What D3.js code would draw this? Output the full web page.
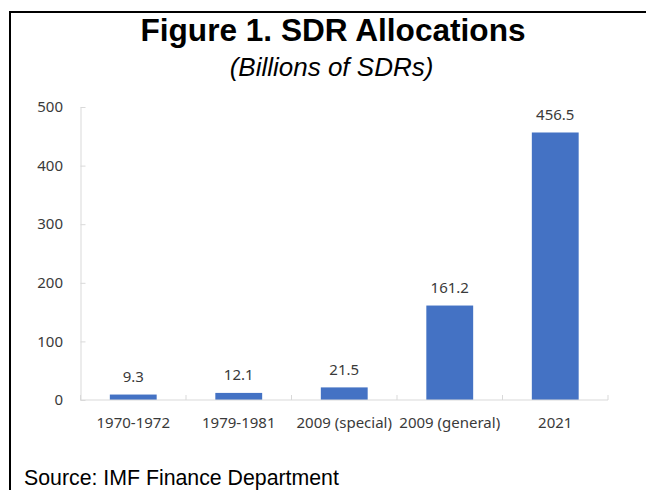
<!DOCTYPE html>
<html>
<head>
<meta charset="utf-8">
<script src="https://cdn.jsdelivr.net/npm/d3@7"></script>
<style>
	body { margin: 0; background: #fff; }
	svg { display: block; }
</style>
</head>
<body>
<svg id="chart" width="646" height="490"></svg>
<script>
// values
let categories = ["1970-1972", "1979-1981", "2009 (special)", "2009 (general)", "2021"];
let allocations = [9.3, 12.1, 21.5, 161.2, 456.5];
let yTicks = [0, 100, 200, 300, 400, 500];

let chart = {
	width: 646,
	height: 490,
	plot: { left: 80.5, right: 608, top: 107, bottom: 400 },
	color: "#4472C4",
	axisColor: "#d9d9d9",
	textColor: "#3a3a3a",
	font: "'Noto Sans', 'Open Sans', sans-serif"
};

let svg = d3.select("#chart");

// frame around the figure (only left and top edges are visible)
svg.append("rect")
	.attr("x", 10).attr("y", 12)
	.attr("width", 660).attr("height", 500)
	.attr("fill", "none")
	.attr("stroke", "#000")
	.attr("stroke-width", 2);

// titles
svg.append("text")
	.attr("x", 333).attr("y", 41)
	.attr("text-anchor", "middle")
	.attr("font-family", "'Liberation Sans', Arial, sans-serif")
	.attr("font-weight", "bold")
	.attr("font-size", 31.6)
	.text("Figure 1. SDR Allocations");

svg.append("text")
	.attr("x", 331.5).attr("y", 76)
	.attr("text-anchor", "middle")
	.attr("font-family", "'Liberation Sans', Arial, sans-serif")
	.attr("font-style", "italic")
	.attr("font-size", 26)
	.text("(Billions of SDRs)");

let x = d3.scaleBand()
	.domain(categories)
	.range([chart.plot.left, chart.plot.right])
	.paddingInner(0.556)
	.paddingOuter(0.278);

let y = d3.scaleLinear()
	.domain([0, 500])
	.range([chart.plot.bottom, chart.plot.top]);

// y axis: light line, ticks pointing inwards, labels on the left
let yAxis = svg.append("g")
	.attr("transform", "translate(" + chart.plot.left + ",0)")
	.call(d3.axisRight(y).tickValues(yTicks).tickSize(5).tickSizeOuter(0).tickFormat(""));
yAxis.select(".domain").attr("stroke", chart.axisColor);
yAxis.selectAll(".tick line").attr("stroke", chart.axisColor);

svg.append("g").selectAll("text")
	.data(yTicks)
	.join("text")
	.attr("x", 63)
	.attr("y", d => y(d))
	.attr("dy", "0.35em")
	.attr("text-anchor", "end")
	.attr("font-family", chart.font)
	.attr("font-size", 15)
	.attr("fill", chart.textColor)
	.text(d => d);

// bars
svg.append("g").selectAll("rect")
	.data(allocations)
	.join("rect")
	.attr("x", (d, i) => x(categories[i]))
	.attr("width", x.bandwidth())
	.attr("y", d => y(d))
	.attr("height", d => y(0) - y(d))
	.attr("fill", chart.color);

// x axis: ticks at category boundaries, pointing up
let step = x.step();
let boundaries = d3.range(categories.length + 1).map(i => chart.plot.left + i * step);
let xAxis = svg.append("g");
xAxis.append("line")
	.attr("x1", chart.plot.left).attr("x2", chart.plot.right)
	.attr("y1", y(0)).attr("y2", y(0))
	.attr("stroke", chart.axisColor);
xAxis.selectAll(".bound")
	.data(boundaries)
	.join("line")
	.attr("class", "bound")
	.attr("x1", d => d).attr("x2", d => d)
	.attr("y1", y(0)).attr("y2", y(0) - 5)
	.attr("stroke", chart.axisColor);

svg.append("g").selectAll("text")
	.data(categories)
	.join("text")
	.attr("x", d => x(d) + x.bandwidth() / 2)
	.attr("y", y(0) + 23)
	.attr("dy", "0.35em")
	.attr("text-anchor", "middle")
	.attr("font-family", chart.font)
	.attr("font-size", 15)
	.attr("fill", chart.textColor)
	.text(d => d);

// data labels
svg.append("g").selectAll("text")
	.data(allocations)
	.join("text")
	.attr("x", (d, i) => x(categories[i]) + x.bandwidth() / 2)
	.attr("y", d => y(d) - 18)
	.attr("dy", "0.35em")
	.attr("text-anchor", "middle")
	.attr("font-family", chart.font)
	.attr("font-size", 15)
	.attr("fill", chart.textColor)
	.text(d => d3.format(".1f")(d));

// source note
svg.append("text")
	.attr("x", 24).attr("y", 485)
	.attr("font-family", "'Liberation Sans', Arial, sans-serif")
	.attr("font-size", 21.3)
	.attr("fill", "#000")
	.text("Source: IMF Finance Department");
</script>
</body>
</html>
